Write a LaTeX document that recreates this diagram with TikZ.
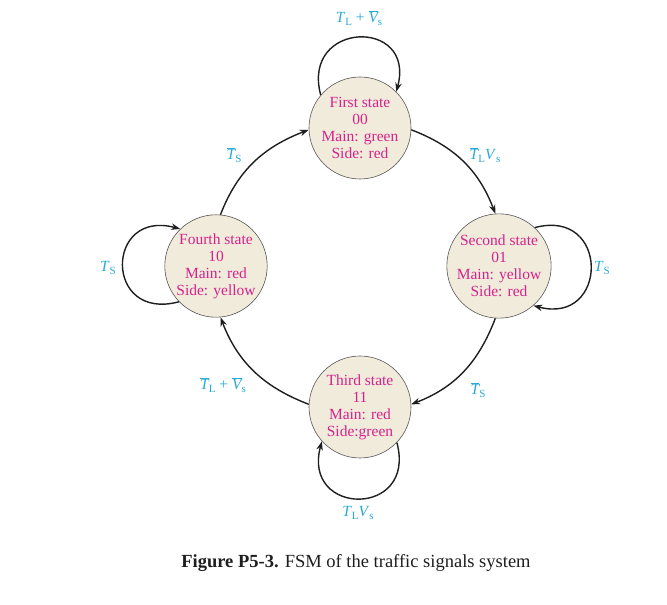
\documentclass[tikz,border=0pt]{standalone}
\usepackage{fontspec}
\setmainfont{Liberation Serif}
\usetikzlibrary{arrows.meta}
\definecolor{statefill}{RGB}{241,235,219}
\definecolor{statetext}{RGB}{212,35,140}
\definecolor{lblcol}{RGB}{40,170,215}
\definecolor{linecol}{RGB}{30,30,30}
\newcommand{\Tb}{$\overline{\mbox{\itshape T}}$}
\newcommand{\Vb}{$\overline{\mbox{\itshape V}}$}
\newcommand{\lsub}[1]{\raisebox{-0.4ex}{\fontsize{11}{11}\selectfont #1}}
\begin{document}
\begin{tikzpicture}[x=1pt,y=1pt,
  state/.style={circle, draw=linecol!75, line width=0.6pt, fill=statefill,
    minimum size=102pt, inner sep=0pt, align=center, text=statetext,
    font=\fontsize{15.5}{17}\selectfont},
  trans/.style={draw=linecol, line width=1.4pt, -{Stealth[length=9pt,width=6.5pt]}},
  lbl/.style={text=lblcol, font=\fontsize{15.5}{17}\selectfont},
  captext/.style={text=linecol, font=\fontsize{18.5}{21}\selectfont}]
\useasboundingbox (0,0) rectangle (667,605);
\node[state] (s1) at (360,477) {First state\\00\\Main: green\\Side: red};
\node[state] (s2) at (499,339) {Second state\\01\\Main: yellow\\Side: red};
\node[state] (s3) at (360,198) {Third state\\11\\Main: red\\Side:green};
\node[state] (s4) at (216,339) {Fourth state\\10\\Main: red\\Side: yellow};
% ring transitions
\draw[trans] (s1.-2) to[out=-21,in=111] (s2.94);
\draw[trans] (s2.-94) to[out=-111,in=21] (s3.3);
\draw[trans] (s3.177) to[out=159,in=-69] (s4.-85);
\draw[trans] (s4.85) to[out=69,in=-159] (s1.182);
% self loops
\draw[trans] (s1.140) to[out=105,in=75,distance=77] (s1.45);
\draw[trans] (s2.47) to[out=15,in=-15,distance=78] (s2.-49);
\draw[trans] (s3.-44) to[out=-75,in=-105,distance=78] (s3.-138);
\draw[trans] (s4.-136) to[out=-165,in=165,distance=78] (s4.134);
% labels
\node[lbl] (l1) at (359,587) {\textit{T}\lsub{L} + \Vb\lsub{s}};
\node[lbl] (l2) at (485,450) {\Tb\lsub{L}\textit{V}\lsub{s}};
\node[lbl] (l3) at (602,337) {\textit{T}\lsub{S}};
\node[lbl] (l4) at (478,215) {\Tb\lsub{S}};
\node[lbl] (l5) at (358,92) {\textit{T}\lsub{L}\textit{V}\lsub{s}};
\node[lbl] (l6) at (223,220) {\Tb\lsub{L} + \Vb\lsub{s}};
\node[lbl] (l7) at (108,337) {\textit{T}\lsub{S}};
\node[lbl] (l8) at (234,450) {\Tb\lsub{S}};
% caption
\node[captext] (cap) at (356,42) {\textbf{Figure P5-3.} FSM of the traffic signals system};
\end{tikzpicture}
\end{document}
